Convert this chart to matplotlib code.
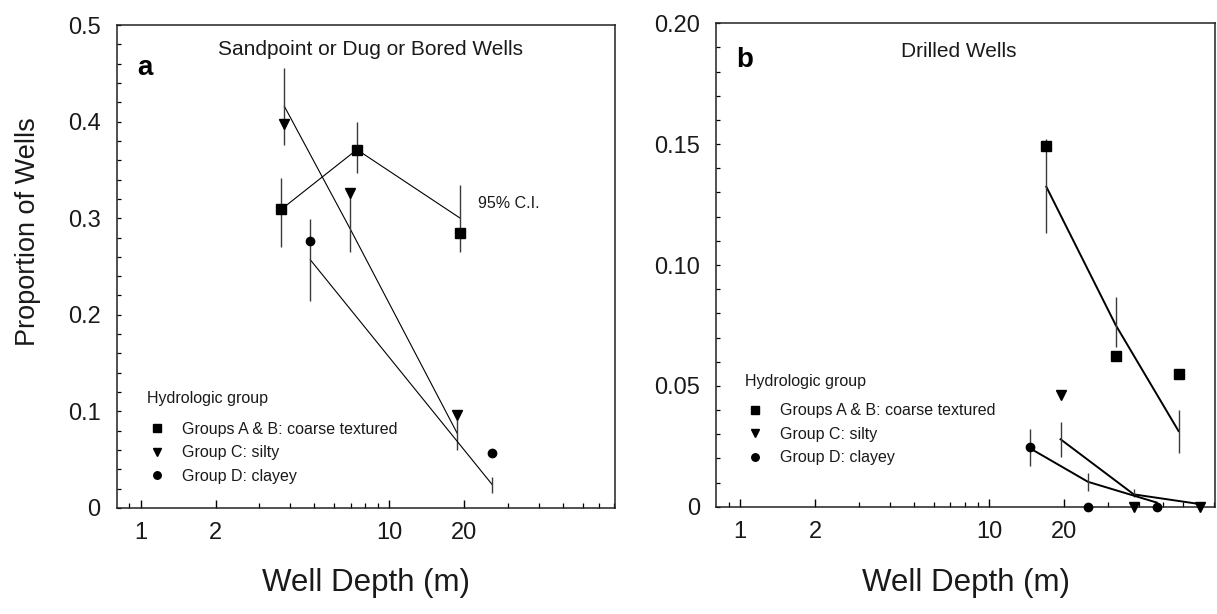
import numpy as np
import matplotlib
matplotlib.use("Agg")
import matplotlib.pyplot as plt
from matplotlib.lines import Line2D
from matplotlib import font_manager
from matplotlib.font_manager import FontProperties
from matplotlib.ticker import FuncFormatter

plt.rcParams['font.family'] = ['Liberation Sans', 'DejaVu Sans']

# ---------------- data: panel a (sandpoint / dug / bored wells) ----------------
depth_ab_a = [3.67, 7.41, 19.3]
obs_ab_a = [0.310, 0.371, 0.285]
fit_ab_a = [0.309, 0.371, 0.300]
lo_ab_a = [0.270, 0.347, 0.265]
hi_ab_a = [0.342, 0.400, 0.334]

depth_c_a = [3.78, 6.96, 18.8]
obs_c_a = [0.398, 0.326, 0.096]
fit_c_a = [0.416, 0.289, 0.077]
lo_c_a = [0.376, 0.265, 0.060]
hi_c_a = [0.455, 0.331, 0.091]

depth_d_a = [4.81, 26.0]
obs_d_a = [0.276, 0.057]
fit_d_a = [0.257, 0.024]
lo_d_a = [0.214, 0.0155]
hi_d_a = [0.299, 0.032]

# ---------------- data: panel b (drilled wells) ----------------
depth_ab_b = [17.0, 32.3, 57.8]
obs_ab_b = [0.1492, 0.0623, 0.0548]
fit_ab_b = [0.1324, 0.0752, 0.0313]
lo_ab_b = [0.1134, 0.066, 0.0221]
hi_ab_b = [0.1521, 0.0866, 0.0400]

depth_c_b = [19.4, 38.2, 70.2]
obs_c_b = [0.0462, 0.0, 0.0]
fit_c_b = [0.0279, 0.0051, 0.0011]
lo_c_b = [0.0207, 0.0041, np.nan]
hi_c_b = [0.0352, 0.0073, np.nan]

depth_d_b = [14.6, 25.0, 47.3]
obs_d_b = [0.0248, 0.0, 0.0]
fit_d_b = [0.0242, 0.0103, 0.0017]
lo_d_b = [0.0168, 0.0066, np.nan]
hi_d_b = [0.0320, 0.0138, np.nan]

group_labels = ["Groups A & B: coarse textured", "Group C: silty", "Group D: clayey"]
group_markers = ["s", "v", "o"]
x_major = [1, 2, 10, 20]
x_minor = [0.9, 3, 4, 5, 6, 7, 8, 9, 30, 40, 50, 60, 70, 80]

W, H = 1217, 614
fig = plt.figure(figsize=(W / 100, H / 100), dpi=100)
ax_a = fig.add_axes([116.7 / W, (H - 508) / H, (615 - 116.7) / W, (508 - 25) / H])
ax_b = fig.add_axes([716 / W, (H - 506.7) / H, (1215 - 716) / W, (506.7 - 23.3) / H])

ms = {"s": 6.5, "v": 7.0, "o": 6.0}
TXT = "#1a1a1a"


def draw_group(ax, depth, obs, fit, lo, hi, marker, lw):
    ax.plot(depth, fit, color="black", lw=lw, zorder=2, solid_joinstyle="miter")
    ax.vlines(depth, lo, hi, color="#3a3a3a", lw=1.0, zorder=2)
    ax.plot(depth, obs, ls="none", marker=marker, ms=ms[marker], color="black",
            zorder=4, clip_on=False)


draw_group(ax_a, depth_ab_a, obs_ab_a, fit_ab_a, lo_ab_a, hi_ab_a, "s", 0.8)
draw_group(ax_a, depth_c_a, obs_c_a, fit_c_a, lo_c_a, hi_c_a, "v", 0.8)
draw_group(ax_a, depth_d_a, obs_d_a, fit_d_a, lo_d_a, hi_d_a, "o", 0.8)

draw_group(ax_b, depth_ab_b, obs_ab_b, fit_ab_b, lo_ab_b, hi_ab_b, "s", 1.4)
draw_group(ax_b, depth_c_b, obs_c_b, fit_c_b, lo_c_b, hi_c_b, "v", 1.4)
draw_group(ax_b, depth_d_b, obs_d_b, fit_d_b, lo_d_b, hi_d_b, "o", 1.4)


def style_axes(ax, ymax, ymajor, yminor, fmt):
    ax.set_xscale("log")
    ax.set_xlim(0.8, 81)
    ax.set_ylim(0, ymax)
    ax.set_xticks(x_major)
    ax.set_xticks(x_minor, minor=True)
    ax.set_xticklabels([str(v) for v in x_major])
    ax.set_yticks(np.arange(0, ymax + 1e-9, ymajor))
    ax.set_yticks(np.arange(0, ymax + 1e-9, yminor), minor=True)
    ax.yaxis.set_major_formatter(FuncFormatter(lambda v, p: "0" if abs(v) < 1e-9 else fmt % v))
    ax.tick_params(axis="x", which="major", direction="in", length=6, width=1.0,
                   pad=10, labelsize=17)
    ax.tick_params(axis="x", which="minor", direction="in", length=3.5, width=0.9)
    ax.tick_params(axis="y", which="both", direction="in", length=3.2, width=0.9,
                   pad=11.5, labelsize=17)
    for sp in ax.spines.values():
        sp.set_linewidth(1.1)
        sp.set_color("#222222")
    for lab in ax.get_xticklabels() + ax.get_yticklabels():
        lab.set_color(TXT)


style_axes(ax_a, 0.5, 0.1, 0.02, "%.1f")
style_axes(ax_b, 0.20, 0.05, 0.01, "%.2f")

# titles and panel letters
ax_a.text(0.51, 0.950, "Sandpoint or Dug or Bored Wells", transform=ax_a.transAxes,
          ha="center", va="center", fontsize=15, color=TXT)
ax_b.text(0.487, 0.941, "Drilled Wells", transform=ax_b.transAxes,
          ha="center", va="center", fontsize=15, color=TXT)
ax_a.text(0.041, 0.912, "a", transform=ax_a.transAxes, ha="left", va="center",
          fontsize=20, fontweight="bold")
ax_b.text(0.0415, 0.924, "b", transform=ax_b.transAxes, ha="left", va="center",
          fontsize=20, fontweight="bold")
ax_a.text(0.725, 0.631, "95% C.I.", transform=ax_a.transAxes, ha="left", va="center",
          fontsize=11.5, color=TXT)

# legends
handles = [Line2D([], [], ls="none", marker=m, color="black", ms=ms[m] * 0.9)
           for m in group_markers]
legend_pos = {
    "a": (ax_a, (0.061, 0.2257), (0.058, 0.178)),
    "b": (ax_b, (0.058, 0.260), (0.055, 0.214)),
}
for key, (ax, title_xy, anchor) in legend_pos.items():
    ax.text(title_xy[0], title_xy[1], "Hydrologic group", transform=ax.transAxes,
            ha="left", va="center", fontsize=11.5, color=TXT)
    leg = ax.legend(handles, group_labels, loc="upper left",
                    bbox_to_anchor=anchor, frameon=False, fontsize=11.5,
                    handlelength=1.4, handletextpad=0.9,
                    labelspacing=0.53, borderpad=0, borderaxespad=0)
    for t in leg.get_texts():
        t.set_color(TXT)

# axis labels
for cx in ((116.7 + 615) / 2, (716 + 1215) / 2):
    fig.text(cx / W, 1 - 583 / H, "Well Depth (m)", ha="center", va="center",
             fontsize=22.5, color=TXT)

narrow = False
try:
    font_manager.findfont(FontProperties(family="Liberation Sans Narrow"),
                          fallback_to_default=False)
    narrow = True
except Exception:
    narrow = False
if narrow:
    fig.text(28 / W, 1 - 232 / H, "Proportion of Wells", rotation=90, ha="center",
             va="center", fontsize=23, color=TXT,
             family=["Liberation Sans Narrow", "DejaVu Sans"])
else:
    fig.text(28 / W, 1 - 232 / H, "Proportion of Wells", rotation=90, ha="center",
             va="center", fontsize=19.5, color=TXT)

fig.savefig("out.png", dpi=100)
